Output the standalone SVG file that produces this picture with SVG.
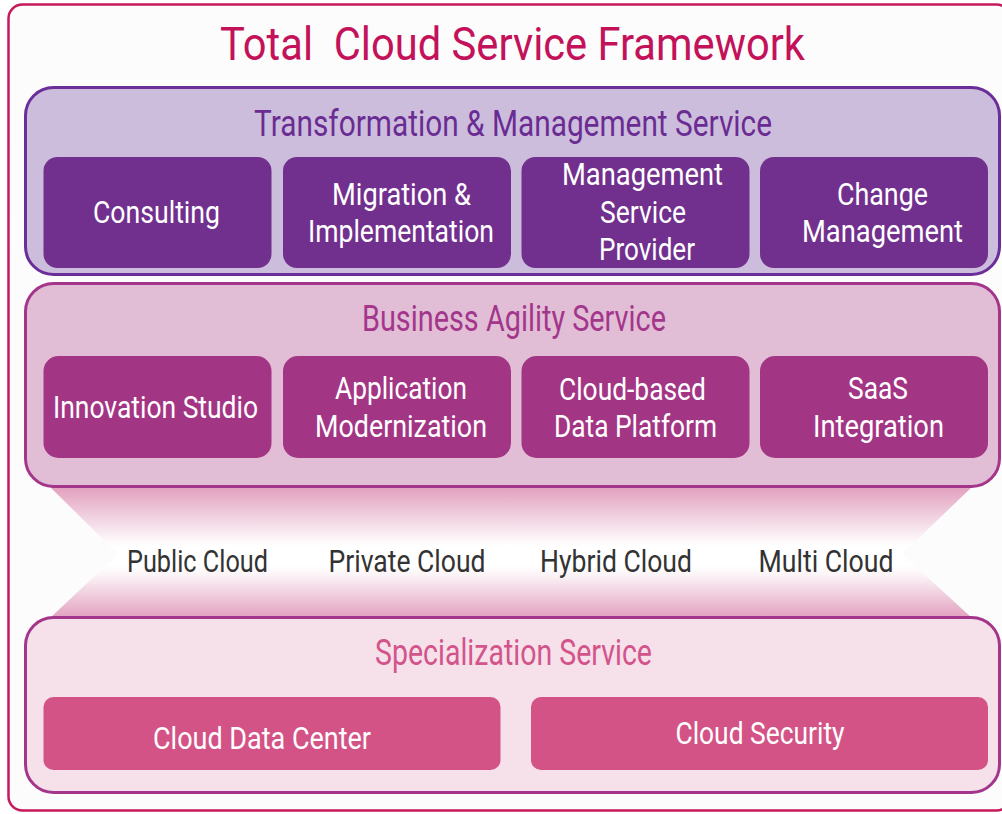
<svg xmlns="http://www.w3.org/2000/svg" width="1002" height="814" viewBox="0 0 1002 814">
<defs>
<linearGradient id="bandGrad" gradientUnits="userSpaceOnUse" x1="0" y1="487" x2="0" y2="618">
<stop offset="0" stop-color="#e2a0bf"/>
<stop offset="0.38" stop-color="#fbf2f6"/>
<stop offset="0.45" stop-color="#ffffff"/>
<stop offset="0.6" stop-color="#ffffff"/>
<stop offset="0.68" stop-color="#fbf2f6"/>
<stop offset="1" stop-color="#e2a0bf"/>
</linearGradient>
<style>
text { font-family: Roboto, "Open Sans", sans-serif; text-anchor: middle; }
.frame { fill: #fcfcfc; stroke: #c8185c; stroke-width: 2.5; }
.title { fill: #c3125a; font-size: 46px; }
.p1 { fill: #cdbddd; stroke: #6b2d98; stroke-width: 3; }
.p2 { fill: #e1bdd6; stroke: #a3368b; stroke-width: 3; }
.p3 { fill: #f6e0ea; stroke: #a3368b; stroke-width: 3; }
.h1 { fill: #6a2c93; font-size: 37px; }
.h2 { fill: #a3368b; font-size: 36px; }
.h3 { fill: #d2548a; font-size: 37px; }
.b1 { fill: #72308e; }
.b2 { fill: #a33585; }
.b3 { fill: #d45387; }
.bt { fill: #ffffff; font-size: 31px; }
.cl { fill: #333333; font-size: 32px; }
</style>
</defs>
<rect x="0" y="0" width="1002" height="814" fill="#ffffff"/>
<g id="frame">
<rect class="frame" x="8.5" y="4.5" width="1002" height="806" rx="14"/>
<text class="title" x="512.5" y="60" textLength="585" lengthAdjust="spacingAndGlyphs" xml:space="preserve">Total  Cloud Service Framework</text>
</g>
<g id="connectors">
<polygon points="50,487 972,487 902,554 972,618 50,618 118,554" fill="url(#bandGrad)"/>
</g>
<g id="transformation-management-service">
<rect class="p1" x="25.5" y="87.5" width="974" height="187" rx="28"/>
<text class="h1" x="513" y="136" textLength="518" lengthAdjust="spacingAndGlyphs">Transformation &amp; Management Service</text>
</g>
<g id="consulting">
<rect class="b1" x="43.5" y="157" width="228" height="111" rx="14"/>
<text class="bt" x="156.5" y="223" textLength="127" lengthAdjust="spacingAndGlyphs">Consulting</text>
</g>
<g id="migration-implementation">
<rect class="b1" x="283" y="157" width="228" height="111" rx="14"/>
<text class="bt" x="401.5" y="205" textLength="139" lengthAdjust="spacingAndGlyphs">Migration &amp;</text>
<text class="bt" x="401" y="242" textLength="186" lengthAdjust="spacingAndGlyphs">Implementation</text>
</g>
<g id="management-service-provider">
<rect class="b1" x="521.5" y="157" width="228" height="111" rx="14"/>
<text class="bt" x="642.5" y="185" textLength="161" lengthAdjust="spacingAndGlyphs">Management</text>
<text class="bt" x="643" y="223" textLength="86" lengthAdjust="spacingAndGlyphs">Service</text>
<text class="bt" x="647" y="260" textLength="96" lengthAdjust="spacingAndGlyphs">Provider</text>
</g>
<g id="change-management">
<rect class="b1" x="760" y="157" width="228" height="111" rx="14"/>
<text class="bt" x="882.5" y="205" textLength="91" lengthAdjust="spacingAndGlyphs">Change</text>
<text class="bt" x="882.5" y="242" textLength="161" lengthAdjust="spacingAndGlyphs">Management</text>
</g>
<g id="business-agility-service">
<rect class="p2" x="25.5" y="283.5" width="974" height="203" rx="28"/>
<text class="h2" x="514" y="331" textLength="304" lengthAdjust="spacingAndGlyphs">Business Agility Service</text>
</g>
<g id="innovation-studio">
<rect class="b2" x="43.5" y="356" width="228" height="102" rx="15"/>
<text class="bt" x="155.5" y="418" textLength="205" lengthAdjust="spacingAndGlyphs">Innovation Studio</text>
</g>
<g id="application-modernization">
<rect class="b2" x="283" y="356" width="228" height="102" rx="15"/>
<text class="bt" x="401" y="399" textLength="132" lengthAdjust="spacingAndGlyphs">Application</text>
<text class="bt" x="401" y="437" textLength="172" lengthAdjust="spacingAndGlyphs">Modernization</text>
</g>
<g id="cloud-based-data-platform">
<rect class="b2" x="521.5" y="356" width="228" height="102" rx="15"/>
<text class="bt" x="632.5" y="400" textLength="147" lengthAdjust="spacingAndGlyphs">Cloud-based</text>
<text class="bt" x="635.5" y="437" textLength="163" lengthAdjust="spacingAndGlyphs">Data Platform</text>
</g>
<g id="saas-integration">
<rect class="b2" x="760" y="356" width="228" height="102" rx="15"/>
<text class="bt" x="878" y="399" textLength="60" lengthAdjust="spacingAndGlyphs">SaaS</text>
<text class="bt" x="878.5" y="437" textLength="131" lengthAdjust="spacingAndGlyphs">Integration</text>
</g>
<g id="public-cloud">
<text class="cl" x="197.5" y="572" textLength="141" lengthAdjust="spacingAndGlyphs">Public Cloud</text>
</g>
<g id="private-cloud">
<text class="cl" x="407" y="572" textLength="157" lengthAdjust="spacingAndGlyphs">Private Cloud</text>
</g>
<g id="hybrid-cloud">
<text class="cl" x="616" y="572" textLength="152" lengthAdjust="spacingAndGlyphs">Hybrid Cloud</text>
</g>
<g id="multi-cloud">
<text class="cl" x="826" y="572" textLength="135" lengthAdjust="spacingAndGlyphs">Multi Cloud</text>
</g>
<g id="specialization-service">
<rect class="p3" x="25.5" y="617.5" width="974" height="175" rx="28"/>
<text class="h3" x="513.5" y="665" textLength="277" lengthAdjust="spacingAndGlyphs">Specialization Service</text>
</g>
<g id="cloud-data-center">
<rect class="b3" x="43.5" y="697" width="457" height="73" rx="10"/>
<text class="bt" x="262" y="749" textLength="218" lengthAdjust="spacingAndGlyphs">Cloud Data Center</text>
</g>
<g id="cloud-security">
<rect class="b3" x="531" y="697" width="457" height="73" rx="10"/>
<text class="bt" x="760" y="744" textLength="169" lengthAdjust="spacingAndGlyphs">Cloud Security</text>
</g>
</svg>
